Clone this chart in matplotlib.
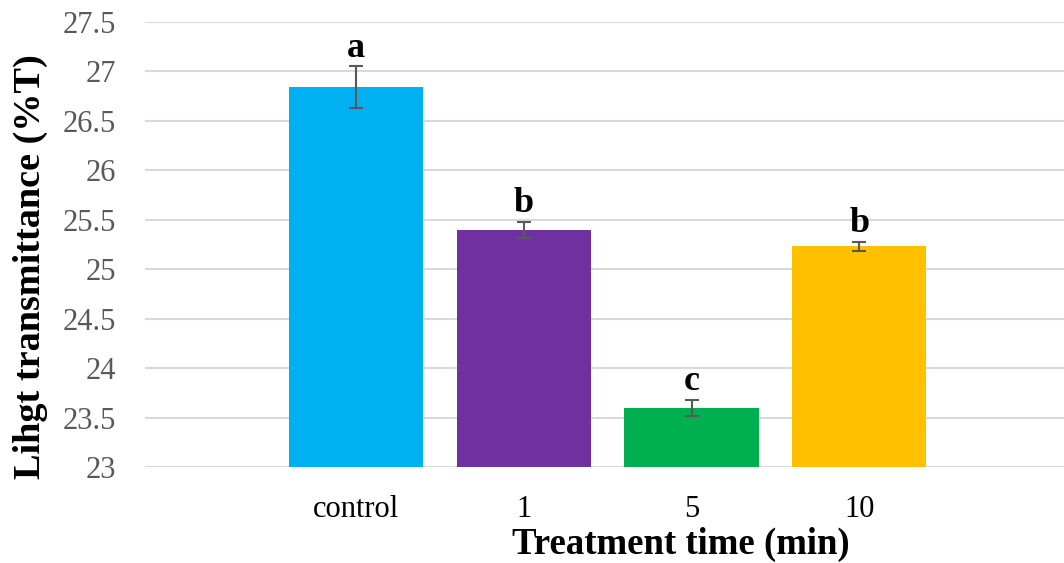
import numpy as np
import matplotlib
matplotlib.use("Agg")
import matplotlib.pyplot as plt

# data
categories = ["control", "1", "5", "10"]
values = [26.84, 25.40, 23.60, 25.23]
errors = [0.21, 0.08, 0.08, 0.05]
letters = ["a", "b", "c", "b"]
bar_colors = ["#00B0F0", "#7030A0", "#00B050", "#FFC000"]
yticks = [23, 23.5, 24, 24.5, 25, 25.5, 26, 26.5, 27, 27.5]
ytick_labels = ["23", "23.5", "24", "24.5", "25", "25.5", "26", "26.5", "27", "27.5"]

plt.rcParams['font.family'] = ['Liberation Serif', 'DejaVu Serif']

fig = plt.figure(figsize=(10.64, 5.63), dpi=100)
ax = fig.add_axes([0.1363, 0.1705, 0.8637, 0.7905])

x = np.arange(len(categories))
ax.bar(x, np.array(values) - 23, bottom=23, width=0.8, color=bar_colors, zorder=2)
ax.errorbar(x, values, yerr=errors, fmt='none', ecolor='#595959', elinewidth=1.5,
            capsize=5, capthick=1.5, zorder=3)

for xi, v, e, lab in zip(x, values, errors, letters):
    ax.annotate(lab, (xi, v + e), xytext=(0, 7), textcoords='offset points',
                ha='center', va='baseline', fontsize=26, fontweight='bold')

ax.set_xlim(-1.258, 4.22)
ax.set_ylim(23, 27.5)
ax.set_yticks(yticks)
ax.set_yticklabels(ytick_labels)
ax.set_xticks(x)
ax.set_xticklabels(categories)
ax.tick_params(axis='y', length=0, pad=21, labelsize=22, labelcolor='#595959')
ax.tick_params(axis='x', length=0, pad=20, labelsize=22, labelcolor='#000000')
ax.yaxis.grid(True, color='#d9d9d9', linewidth=1.5, zorder=0)
ax.set_axisbelow(True)
for s in ax.spines.values():
    s.set_visible(False)

# x label sits just under the tick labels, a bit right of centre
fig.text(681 / 1064, 1 - 544 / 563, "Treatment time (min)", ha='center', va='center',
         fontsize=26.5, fontweight='bold')
fig.text(30 / 1064, 1 - 267 / 563, "Lihgt transmittance (%T)", ha='center', va='center',
         rotation=90, fontsize=27.5, fontweight='bold')

fig.savefig("out.png", dpi=100, facecolor='white')
